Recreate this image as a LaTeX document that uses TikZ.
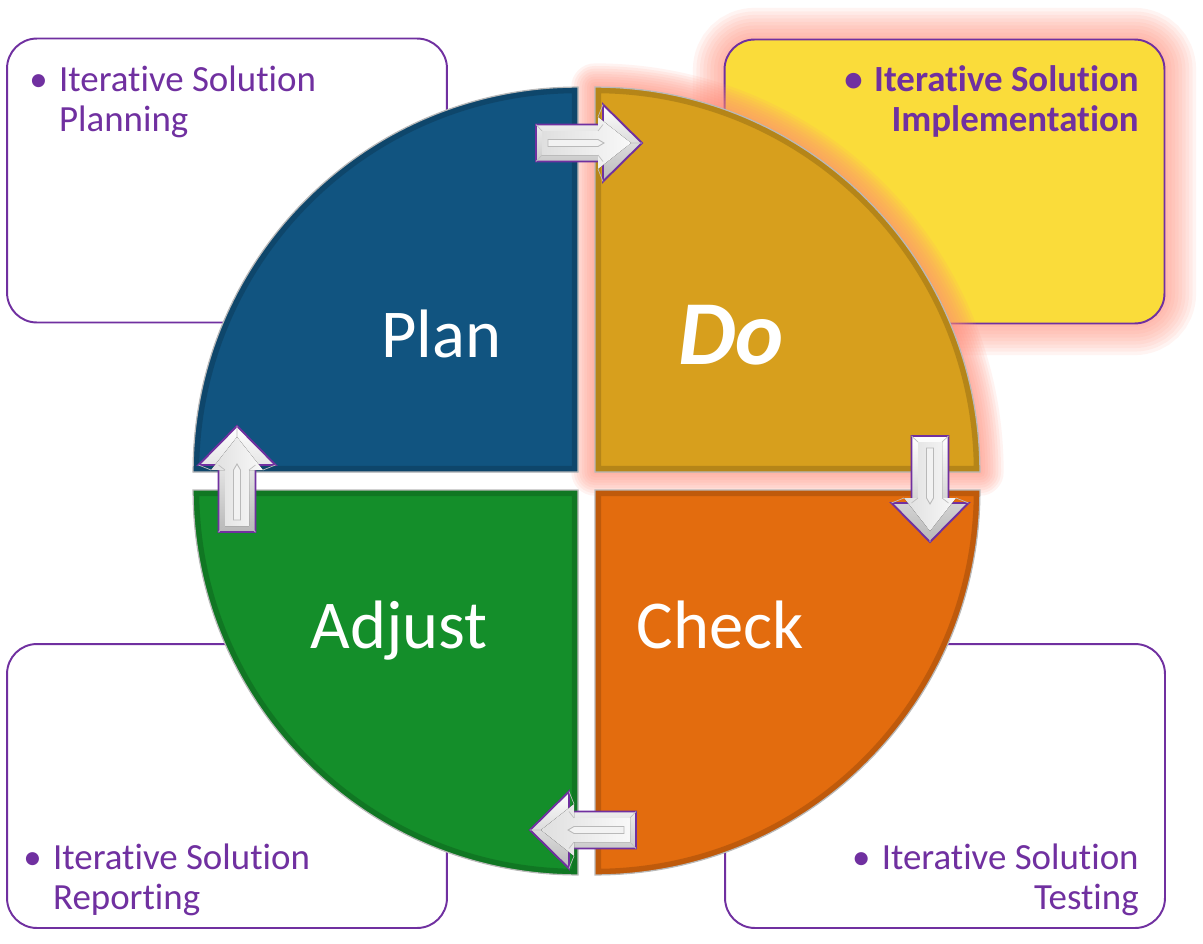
\documentclass[tikz,border=0pt]{standalone}
\usepackage{fontspec}
\setmainfont{Carlito}[Ligatures={NoCommon,NoRare},Contextuals=NoAlternate]
\usetikzlibrary{calc}
\definecolor{planblue}{RGB}{17,84,128}
\definecolor{dogold}{RGB}{215,159,29}
\definecolor{checkorange}{RGB}{227,108,14}
\definecolor{adjustgreen}{RGB}{20,142,42}
\definecolor{boxyellow}{RGB}{250,220,58}
\definecolor{boxpurple}{RGB}{112,48,160}
\definecolor{glowpink}{RGB}{255,140,120}

\newcommand\secrad{7.7cm}
\newcommand\bitem[2]{\begin{tabular}[t]{@{}l@{\hspace{6.5pt}}l@{}}\textbullet&#1\\&#2\end{tabular}}
\newcommand\ritem[2]{\begin{tabular}[t]{@{}r@{}}\textbullet\hspace{6.5pt}#1\\#2\end{tabular}}
% quarter discs of the cycle
\newcommand\plansector{(578,472) -- ++(180:\secrad) arc[start angle=180,end angle=90,radius=\secrad] -- cycle}
\newcommand\dosector{(595,472) -- ++(90:\secrad) arc[start angle=90,end angle=0,radius=\secrad] -- cycle}
\newcommand\checksector{(595,490) -- ++(0:\secrad) arc[start angle=0,end angle=-90,radius=\secrad] -- cycle}
\newcommand\adjustsector{(578,490) -- ++(270:\secrad) arc[start angle=270,end angle=180,radius=\secrad] -- cycle}
\newcommand\drawsector[2]{%
  \fill[#2] #1;
  \begin{scope}
    \clip #1;
    \draw[#2!55!black, line width=7pt, opacity=0.35] #1;
  \end{scope}
  \draw[gray!55, line width=0.7pt] #1;
}

\tikzset{
  boxframe/.style={draw=boxpurple, line width=1.1pt, rounded corners=17pt, minimum width=8.8cm, minimum height=5.68cm, inner sep=0, fill=white},
  boxtext/.style={text=boxpurple, inner sep=0, font=\fontsize{21}{22.8}\selectfont},
  sectorlabel/.style={text=white, inner sep=0, anchor=base, font=\fontsize{39}{39}\selectfont},
  arrowplate/.style={draw=boxpurple, line width=1.1pt, top color=white, bottom color=gray!55},
  arrowface/.style={left color=gray!25, right color=white!95!gray},
  arrowgroove/.style={draw=gray!55, line width=0.5pt, fill=white!90!gray},
  blockarrow/.pic={
    \path[arrowplate] (-106,-18.5) -- (-39,-18.5) -- (-39,-38.5) -- (0,0) -- (-39,38.5) -- (-39,18.5) -- (-106,18.5) -- cycle;
    \fill[arrowface] (-100,-12) -- (-44,-12) -- (-44,-26) -- (-11,0) -- (-44,26) -- (-44,12) -- (-100,12) -- cycle;
    \draw[gray!50, line width=0.4pt] (-106,-18.5) -- (-100,-12) (-39,-18.5) -- (-44,-12) (-39,-38.5) -- (-44,-26)
      (0,0) -- (-11,0) (-39,38.5) -- (-44,26) (-39,18.5) -- (-44,12) (-106,18.5) -- (-100,12);
    \draw[arrowgroove] (-94,-3.5) -- (-44,-3.5) -- (-38,0) -- (-44,3.5) -- (-94,3.5) -- cycle;
  }
}

\begin{document}
\begin{tikzpicture}[x=0.02cm, y=-0.02cm]
\fill[white] (0,0) rectangle (1203,943);
\useasboundingbox (0,0) rectangle (1203,943);

% side boxes
\node[boxframe] (planbox) at (227,180.5) {};
\node[boxframe] (adjustbox) at (227,786) {};
\node[boxframe] (checkbox) at (945,786) {};
\foreach \w in {4,8,...,36}
  \draw[glowpink, line width=\w pt, opacity=0.09, rounded corners=17pt] (944.5,181.5) +(-4.4cm,-2.84cm) rectangle +(4.4cm,2.84cm);
\node[boxframe, fill=boxyellow] (dobox) at (944.5,181.5) {};

\node[boxtext, anchor=base west] (plantxt) at (29,91) {\bitem{Iterative Solution}{Planning}};
\node[boxtext, anchor=base east, font=\fontsize{21}{22.8}\selectfont\bfseries] (dotxt) at (1139,91) {\ritem{Iterative Solution}{Implementation}};
\node[boxtext, anchor=base east] (checktxt) at (1139,869) {\ritem{Iterative Solution}{Testing}};
\node[boxtext, anchor=base west] (adjusttxt) at (23,869) {\bitem{Iterative Solution}{Reporting}};

% glow round the active quarter
\foreach \w in {3,6,...,27}
  \draw[glowpink, line width=\w pt, opacity=0.1, line join=round] \dosector;

\drawsector{\plansector}{planblue}
\drawsector{\dosector}{dogold}
\drawsector{\checksector}{checkorange}
\drawsector{\adjustsector}{adjustgreen}

\node[sectorlabel] (plan) at (441.5,357) {Plan};
\node[sectorlabel, font=\fontsize{52}{52}\selectfont\bfseries\itshape] (do) at (731,364) {Do};
\node[sectorlabel] (check) at (720,648) {Check};
\node[sectorlabel] (adjust) at (399,648) {Adjust};

% arrows between the quarters
\pic (toDo) at (642,143) {blockarrow};
\pic[rotate=-90] (toCheck) at (930,542) {blockarrow};
\pic[rotate=180] (toAdjust) at (530,830) {blockarrow};
\pic[rotate=90] (toPlan) at (237,426) {blockarrow};
\end{tikzpicture}
\end{document}
